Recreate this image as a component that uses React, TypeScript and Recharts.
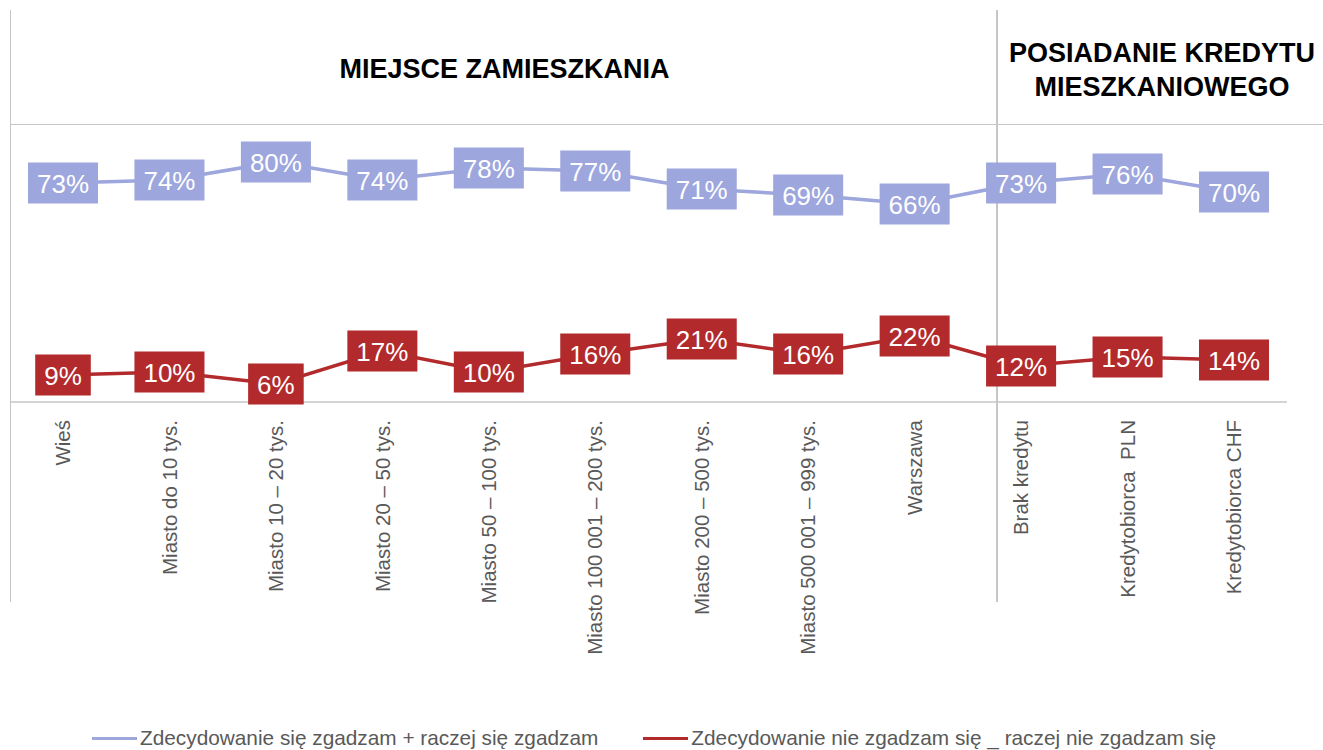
import React from 'react';
import { LineChart, Line, XAxis, YAxis, LabelList, Legend } from 'recharts';

const categories = [
  'Wieś',
  'Miasto do 10 tys.',
  'Miasto 10 – 20 tys.',
  'Miasto 20 – 50 tys.',
  'Miasto 50 – 100 tys.',
  'Miasto 100 001 – 200 tys.',
  'Miasto 200 – 500 tys.',
  'Miasto 500 001 – 999 tys.',
  'Warszawa',
  'Brak kredytu',
  'Kredytobiorca  PLN',
  'Kredytobiorca CHF',
];

const agreeValues = [73, 74, 80, 74, 78, 77, 71, 69, 66, 73, 76, 70];
const disagreeValues = [9, 10, 6, 17, 10, 16, 21, 16, 22, 12, 15, 14];

const agreeName = 'Zdecydowanie się zgadzam + raczej się zgadzam';
const disagreeName = 'Zdecydowanie nie zgadzam się _ raczej nie zgadzam się';

const FONT = '"Liberation Sans", Arial, Helvetica, sans-serif';
const BLUE = '#9da6dd';
const RED = '#b22a2c';
const GRID = '#c6c6c6';

const data = categories.map((name, i) => ({
  name,
  agree: agreeValues[i],
  disagree: disagreeValues[i],
}));

function textWidth(s: string, size: number) {
  let w = 0;
  for (const ch of s) w += ch === '%' ? 0.889 : 0.556;
  return w * size;
}

function makeBoxLabel(fill: string) {
  return (props: any) => {
    const { x, y, value } = props;
    const text = `${value}%`;
    const w = textWidth(text, 26) + 18;
    const h = 41;
    return (
      <g>
        <rect x={x - w / 2} y={y - h / 2} width={w} height={h} fill={fill} />
        <text
          x={x}
          y={y + 1}
          textAnchor="middle"
          dominantBaseline="central"
          fill="#ffffff"
          fontSize={26}
          fontFamily={FONT}
        >
          {text}
        </text>
      </g>
    );
  };
}

function CategoryTick(props: any) {
  const { x, y, payload } = props;
  return (
    <g transform={`translate(${x},${y})`}>
      <text
        transform="rotate(-90)"
        textAnchor="end"
        dy="0.35em"
        fill="#595959"
        fontSize={20.5}
        fontFamily={FONT}
        style={{ whiteSpace: 'pre' }}
      >
        {payload.value}
      </text>
    </g>
  );
}

function LegendContent() {
  const items = [
    { name: agreeName, color: BLUE },
    { name: disagreeName, color: RED },
  ];
  return (
    <div
      style={{
        display: 'flex',
        height: 30,
        alignItems: 'center',
        paddingLeft: 82,
        paddingTop: 6,
        boxSizing: 'border-box',
        gap: 45,
        fontFamily: FONT,
        fontSize: 20.8,
        color: '#595959',
        whiteSpace: 'nowrap',
      }}
    >
      {items.map((it) => (
        <div key={it.name} style={{ display: 'flex', alignItems: 'center' }}>
          <span
            style={{
              display: 'inline-block',
              width: 45,
              height: 3,
              background: it.color,
              marginRight: 3,
            }}
          />
          <span>{it.name}</span>
        </div>
      ))}
    </div>
  );
}

export default function App() {
  return (
    <div
      style={{
        position: 'absolute',
        left: 0,
        top: 0,
        width: 1323,
        height: 750,
        background: '#ffffff',
        fontFamily: FONT,
      }}
    >
      <div style={{ position: 'absolute', left: 10, top: 10, width: 1, height: 592, background: GRID }} />
      <div style={{ position: 'absolute', left: 996, top: 10, width: 1.5, height: 592, background: GRID }} />
      <div style={{ position: 'absolute', left: 10, top: 123.5, width: 1313, height: 1.5, background: GRID }} />
      <div
        style={{
          position: 'absolute',
          left: 204.5,
          top: 52,
          width: 600,
          textAlign: 'center',
          fontSize: 27,
          fontWeight: 'bold',
          lineHeight: '34px',
          color: '#000',
          whiteSpace: 'nowrap',
        }}
      >
        MIEJSCE ZAMIESZKANIA
      </div>
      <div
        style={{
          position: 'absolute',
          left: 992,
          top: 36,
          width: 340,
          textAlign: 'center',
          fontSize: 27,
          fontWeight: 'bold',
          lineHeight: '34px',
          color: '#000',
          whiteSpace: 'nowrap',
        }}
      >
        POSIADANIE KREDYTU
        <br />
        MIESZKANIOWEGO
      </div>
      <div style={{ position: 'absolute', left: 0, top: 0 }}>
        <LineChart
          width={1323}
          height={750}
          data={data}
          margin={{ top: 102, right: 36, left: 10, bottom: 0 }}
        >
          <XAxis
            dataKey="name"
            interval={0}
            height={318}
            padding={{ left: 53, right: 53 }}
            tickSize={0}
            tickMargin={18}
            tickLine={false}
            axisLine={{ stroke: GRID, strokeWidth: 1.5 }}
            tick={<CategoryTick />}
          />
          <YAxis hide domain={[0, 100]} />
          <Legend verticalAlign="bottom" content={<LegendContent />} />
          <Line
            type="linear"
            dataKey="agree"
            name={agreeName}
            stroke={BLUE}
            strokeWidth={3.5}
            dot={false}
            isAnimationActive={false}
          >
            <LabelList dataKey="agree" content={makeBoxLabel(BLUE)} />
          </Line>
          <Line
            type="linear"
            dataKey="disagree"
            name={disagreeName}
            stroke={RED}
            strokeWidth={3.5}
            dot={false}
            isAnimationActive={false}
          >
            <LabelList dataKey="disagree" content={makeBoxLabel(RED)} />
          </Line>
        </LineChart>
      </div>
    </div>
  );
}
